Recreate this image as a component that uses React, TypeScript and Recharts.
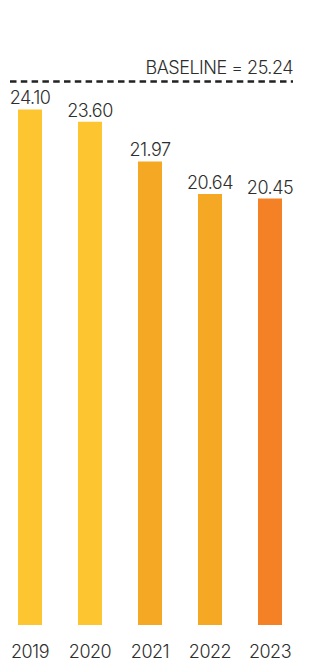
import React from "react";
import {
  Bar,
  BarChart,
  Cell,
  LabelList,
  ReferenceLine,
  XAxis,
  YAxis,
} from "recharts";

// values
const years = ["2019", "2020", "2021", "2022", "2023"];
const values = [24.1, 23.6, 21.97, 20.64, 20.45];
const barColors = ["#FDC52F", "#FDC52F", "#F5A823", "#F5A823", "#F48125"];
const baselineValue = 25.24;
const baselineLabel = "BASELINE = 25.24";
const yDomain: [number, number] = [3, 26];

const data = years.map((year, i) => ({ year, value: values[i] }));

const FONT = "Inter, 'Noto Sans', sans-serif";
const TEXT = "#2e2e2e";
const textStyle = { letterSpacing: -0.5 };

function BaselineLabel(props: any) {
  const { viewBox } = props;
  const x = viewBox.x + viewBox.width;
  return (
    <text
      x={x}
      y={viewBox.y - 8}
      textAnchor="end"
      fill={TEXT}
      fontSize={18}
      fontWeight={300}
      fontFamily={FONT}
      style={textStyle}
    >
      {baselineLabel}
    </text>
  );
}

export default function App() {
  return (
    <div
      style={{
        position: "absolute",
        left: 0,
        top: 0,
        width: 314,
        height: 663,
        background: "#fff",
        fontFamily: FONT,
      }}
    >
      <BarChart
        width={314}
        height={663}
        data={data}
        margin={{ top: 63, right: 21, bottom: 0, left: 10 }}
      >
        <XAxis
          dataKey="year"
          height={38}
          padding={{ left: -10, right: -7 }}
          axisLine={false}
          tickLine={false}
          tickMargin={14}
          interval={0}
          tick={{
            fill: TEXT,
            fontSize: 18,
            fontWeight: 300,
            fontFamily: FONT,
            style: textStyle,
          }}
        />
        <YAxis hide domain={yDomain} />
        <ReferenceLine
          y={baselineValue}
          stroke="#222"
          strokeWidth={2.5}
          strokeDasharray="6.5 4.3"
          label={<BaselineLabel />}
        />
        <Bar dataKey="value" barSize={24} isAnimationActive={false}>
          {data.map((d, i) => (
            <Cell key={d.year} fill={barColors[i]} />
          ))}
          <LabelList
            dataKey="value"
            position="top"
            offset={5}
            fill={TEXT}
            fontSize={18}
            fontWeight={300}
            fontFamily={FONT}
            style={textStyle}
            formatter={(v: any) => Number(v).toFixed(2)}
          />
        </Bar>
      </BarChart>
    </div>
  );
}
